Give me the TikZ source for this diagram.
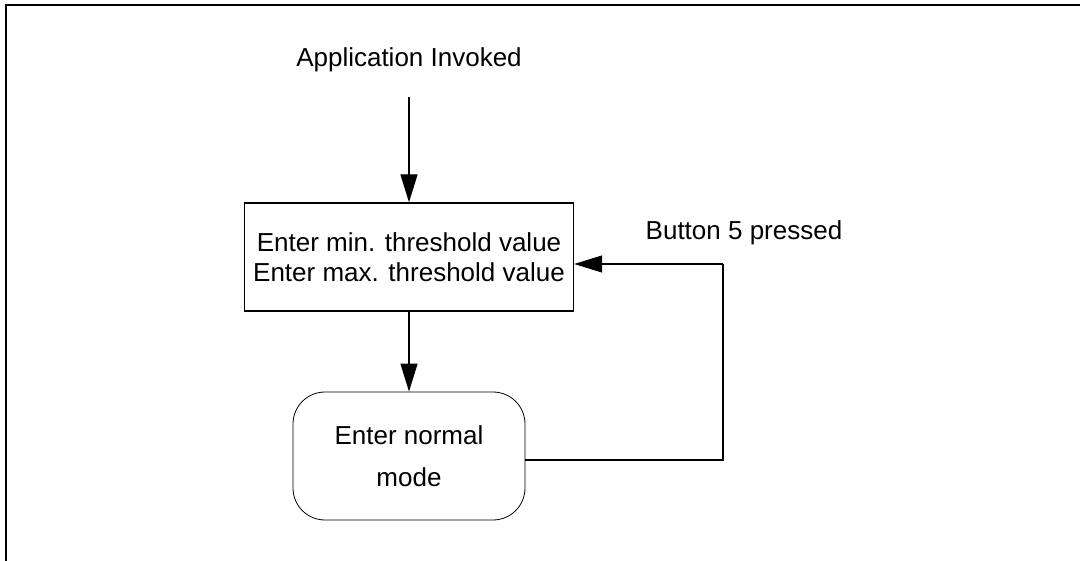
\documentclass[tikz,border=0pt]{standalone}
\usepackage{fontspec}
\setmainfont{Liberation Sans}
\usetikzlibrary{arrows.meta}
\begin{document}
\begin{tikzpicture}[x=1pt,y=-1pt,
  lbl/.style={font=\fontsize{26}{30}\selectfont, inner sep=0pt},
  procbox/.style={draw, line width=1.3pt, minimum width=329pt, minimum height=108pt, inner sep=0pt, align=center, font=\fontsize{26}{30}\selectfont},
  modebox/.style={draw, line width=0.8pt, rounded corners=32pt, minimum width=232pt, minimum height=128pt, inner sep=0pt, align=center, font=\fontsize{26}{42}\selectfont},
  conn/.style={line width=1.3pt},
  arr/.style={conn, -{Triangle[length=28pt,width=17pt]}},
  frameline/.style={line width=2pt}
]
\useasboundingbox (0,0) rectangle (1080,561);
\draw[frameline] (6,561) -- (6,5) -- (1080,5);

\node[lbl, anchor=base] (app) at (409,67) {Application Invoked};
\node[procbox] (box) at (409,257) {Enter min. threshold value\\Enter max. threshold value};
\node[modebox] (mode) at (409,456) {Enter normal\\mode};
\node[lbl, anchor=base] (btn) at (744,240) {Button 5 pressed};

\coordinate (c1) at (723,460);
\coordinate (c2) at (723,264);

\draw[arr, shorten <=24pt] (app) -- (box);
\draw[arr] (box) -- (mode);
\draw[conn] (mode.east |- c1) -- (c1) -- (c2);
\draw[arr] (c2) -- (box.east |- c2);
\end{tikzpicture}
\end{document}
